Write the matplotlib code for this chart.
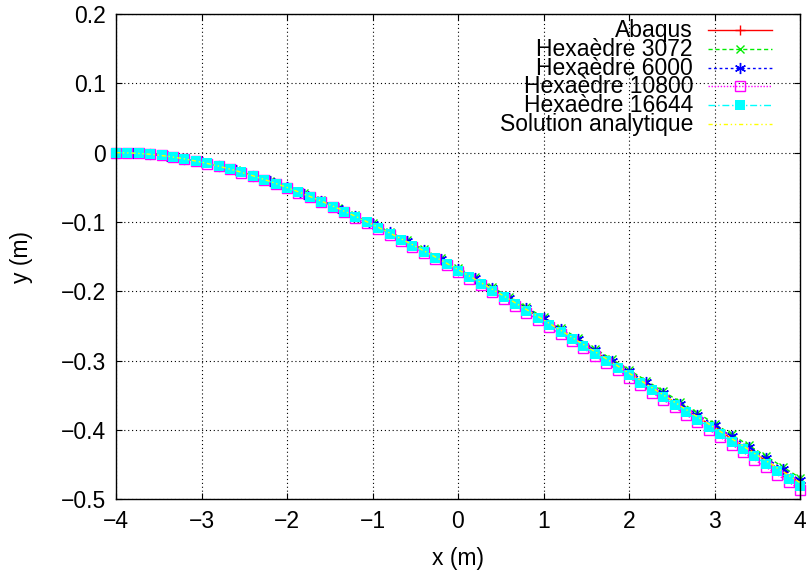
"""Deflection of the beam: FE meshes vs Abaqus vs the analytic solution."""

import matplotlib
matplotlib.use("Agg")
import matplotlib.pyplot as plt

plt.rcParams.update({
    "font.family": ["Liberation Sans", "DejaVu Sans"],
    "font.size": 16.5,
    "axes.linewidth": 1.0,
    "xtick.direction": "in",
    "ytick.direction": "in",
    "xtick.top": True,
    "ytick.right": True,
    "xtick.major.size": 4.5,
    "ytick.major.size": 4.5,
    "xtick.major.pad": 8,
    "ytick.major.pad": 7,
})

# --- data -------------------------------------------------------------------
# coarse series: one point every 0.2 m
x_coarse = [-4.0, -3.8, -3.6, -3.4, -3.2, -3.0, -2.8, -2.6, -2.4, -2.2,
            -2.0, -1.8, -1.6, -1.4, -1.2, -1.0, -0.8, -0.6, -0.4, -0.2,
            0.0, 0.2, 0.4, 0.6, 0.8, 1.0, 1.2, 1.4, 1.6, 1.8,
            2.0, 2.2, 2.4, 2.6, 2.8, 3.0, 3.2, 3.4, 3.6, 3.8, 4.0]

y_abaqus = [0.0, -0.0006, -0.0023, -0.0051, -0.0089, -0.0137, -0.0194, -0.0259,
            -0.0333, -0.0414, -0.0502, -0.0597, -0.0698, -0.0805, -0.0918,
            -0.1035, -0.1158, -0.1284, -0.1415, -0.1549, -0.1686, -0.1826,
            -0.1969, -0.2114, -0.2262, -0.2411, -0.2562, -0.2715, -0.2869,
            -0.3024, -0.3180, -0.3336, -0.3493, -0.3651, -0.3809, -0.3967,
            -0.4125, -0.4284, -0.4441, -0.4601, -0.4760]

y_hex3072 = [0.0, -0.0006, -0.0023, -0.0050, -0.0088, -0.0135, -0.0191, -0.0255,
             -0.0328, -0.0408, -0.0495, -0.0588, -0.0688, -0.0794, -0.0904,
             -0.1020, -0.1141, -0.1265, -0.1394, -0.1526, -0.1661, -0.1799,
             -0.1940, -0.2083, -0.2229, -0.2376, -0.2525, -0.2675, -0.2827,
             -0.2979, -0.3133, -0.3287, -0.3442, -0.3597, -0.3753, -0.3909,
             -0.4065, -0.4221, -0.4376, -0.4534, -0.4690]

y_hex6000 = [0.0, -0.0006, -0.0023, -0.0050, -0.0088, -0.0136, -0.0192, -0.0257,
             -0.0330, -0.0410, -0.0498, -0.0592, -0.0692, -0.0799, -0.0910,
             -0.1027, -0.1148, -0.1273, -0.1403, -0.1536, -0.1672, -0.1811,
             -0.1953, -0.2097, -0.2243, -0.2391, -0.2541, -0.2692, -0.2845,
             -0.2998, -0.3153, -0.3308, -0.3464, -0.3620, -0.3777, -0.3934,
             -0.4091, -0.4248, -0.4404, -0.4563, -0.4720]

y_analytic = [0.0, -0.0006, -0.0023, -0.0051, -0.0089, -0.0137, -0.0194, -0.0259,
              -0.0333, -0.0414, -0.0502, -0.0597, -0.0698, -0.0805, -0.0918,
              -0.1035, -0.1158, -0.1284, -0.1415, -0.1549, -0.1686, -0.1826,
              -0.1969, -0.2114, -0.2262, -0.2411, -0.2562, -0.2715, -0.2869,
              -0.3024, -0.3180, -0.3336, -0.3493, -0.3651, -0.3809, -0.3967,
              -0.4125, -0.4284, -0.4441, -0.4601, -0.4760]

# fine series: 61 points over [-4, 4]
x_fine = [-4.0, -3.8667, -3.7333, -3.6, -3.4667, -3.3333, -3.2, -3.0667,
          -2.9333, -2.8, -2.6667, -2.5333, -2.4, -2.2667, -2.1333, -2.0,
          -1.8667, -1.7333, -1.6, -1.4667, -1.3333, -1.2, -1.0667, -0.9333,
          -0.8, -0.6667, -0.5333, -0.4, -0.2667, -0.1333, 0.0, 0.1333, 0.2667,
          0.4, 0.5333, 0.6667, 0.8, 0.9333, 1.0667, 1.2, 1.3333, 1.4667, 1.6,
          1.7333, 1.8667, 2.0, 2.1333, 2.2667, 2.4, 2.5333, 2.6667, 2.8,
          2.9333, 3.0667, 3.2, 3.3333, 3.4667, 3.6, 3.7333, 3.8667, 4.0]

y_hex10800 = [0.0, -0.0003, -0.0011, -0.0024, -0.0041, -0.0064, -0.0091, -0.0122,
              -0.0158, -0.0198, -0.0241, -0.0289, -0.0340, -0.0394, -0.0452,
              -0.0513, -0.0577, -0.0643, -0.0713, -0.0785, -0.0860, -0.0937,
              -0.1017, -0.1098, -0.1182, -0.1268, -0.1355, -0.1444, -0.1535,
              -0.1627, -0.1721, -0.1816, -0.1913, -0.2010, -0.2109, -0.2209,
              -0.2309, -0.2411, -0.2513, -0.2616, -0.2720, -0.2824, -0.2929,
              -0.3034, -0.3140, -0.3246, -0.3353, -0.3460, -0.3567, -0.3674,
              -0.3781, -0.3889, -0.3997, -0.4104, -0.4212, -0.4320, -0.4428,
              -0.4534, -0.4644, -0.4752, -0.4860]

y_hex16644 = [0.0, -0.0003, -0.0010, -0.0023, -0.0041, -0.0063, -0.0090, -0.0121,
              -0.0156, -0.0196, -0.0239, -0.0286, -0.0336, -0.0390, -0.0447,
              -0.0507, -0.0571, -0.0637, -0.0706, -0.0777, -0.0851, -0.0928,
              -0.1006, -0.1087, -0.1170, -0.1255, -0.1341, -0.1429, -0.1519,
              -0.1611, -0.1704, -0.1798, -0.1893, -0.1990, -0.2087, -0.2186,
              -0.2286, -0.2386, -0.2487, -0.2589, -0.2692, -0.2795, -0.2899,
              -0.3003, -0.3108, -0.3213, -0.3318, -0.3424, -0.3530, -0.3636,
              -0.3742, -0.3849, -0.3955, -0.4062, -0.4169, -0.4276, -0.4382,
              -0.4488, -0.4596, -0.4703, -0.4810]

labels = ["Abaqus", "Hexaèdre 3072", "Hexaèdre 6000", "Hexaèdre 10800",
          "Hexaèdre 16644", "Solution analytique"]

x_ticks = [-4, -3, -2, -1, 0, 1, 2, 3, 4]
y_ticks = [-0.5, -0.4, -0.3, -0.2, -0.1, 0, 0.1, 0.2]

# --- styles (gnuplot-like) ----------------------------------------------------
ASTER = (6, 2, 0)
styles = [
    dict(color="#ff0000", ls="-", marker="+", ms=7, mfc="#ff0000", mew=1.0),
    dict(color="#00ee00", ls=(0, (3, 2)), marker="x", ms=6, mfc="#00ee00", mew=1.0),
    dict(color="#0000ff", ls=(0, (2, 2)), marker=ASTER, ms=8, mfc="#0000ff", mew=1.0),
    dict(color="#ff00ff", ls=(0, (1, 1.2)), marker="s", ms=7.5, mfc="none", mew=1.0),
    dict(color="#00ffff", ls=(0, (5, 2, 1, 2)), marker="s", ms=7.5, mfc="#00ffff", mew=0),
    dict(color="#ffff00", ls=(0, (3, 2, 1, 2, 1, 2)), marker=None, ms=0, mfc="none", mew=0),
]
series = [(x_coarse, y_abaqus), (x_coarse, y_hex3072), (x_coarse, y_hex6000),
          (x_fine, y_hex10800), (x_fine, y_hex16644), (x_coarse, y_analytic)]

fig = plt.figure(figsize=(8.07, 5.75), dpi=100)
W, H = 807, 575
L, R, T, B = 116, 800, 14, 499.3
ax = fig.add_axes([L / W, 1 - B / H, (R - L) / W, (B - T) / H])

for (xs, ys), st in zip(series, styles):
    ax.plot(xs, ys, color=st["color"], ls=st["ls"], lw=1.0,
            marker=st["marker"], ms=st["ms"], mfc=st["mfc"],
            mec=st["color"], mew=st["mew"], clip_on=False)

ax.set_xlim(-4, 4)
ax.set_ylim(-0.5, 0.2)
ax.set_xticks(x_ticks)
ax.set_yticks(y_ticks)
ax.set_yticklabels(["\u22120.5", "\u22120.4", "\u22120.3", "\u22120.2",
                    "\u22120.1", "0", "0.1", "0.2"])
ax.grid(True, color="black", ls=(0, (1, 2.5)), lw=0.8)
ax.set_xlabel("x (m)", labelpad=10)
ax.set_ylabel("y (m)", labelpad=20)

# gnuplot-style key: right-aligned text, sample on the right
def ax_x(px):
    return (px - L) / (R - L)

def ax_y(py):
    return (B - py) / (B - T)

row_base = [37.3, 56.0, 74.7, 93.4, 112.1, 130.8]
for lab, st, yb in zip(labels, styles, row_base):
    ax.text(ax_x(693), ax_y(yb), lab, ha="right", va="baseline",
            transform=ax.transAxes)
    yc = ax_y(yb - 7)
    ax.plot([ax_x(708), ax_x(772)], [yc, yc], transform=ax.transAxes,
            color=st["color"], ls=st["ls"], lw=1.0, clip_on=False)
    if st["marker"] is not None:
        ax.plot([ax_x(740)], [yc], transform=ax.transAxes,
                marker=st["marker"], ms=st["ms"], mfc=st["mfc"],
                mec=st["color"], mew=st["mew"], ls="none", clip_on=False)

fig.savefig("out.png", dpi=100, facecolor="white")
